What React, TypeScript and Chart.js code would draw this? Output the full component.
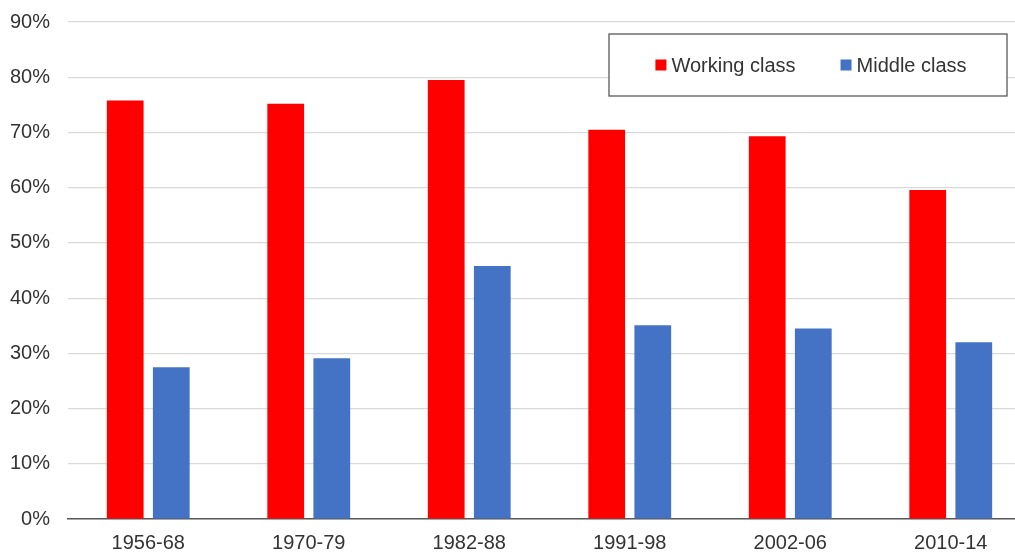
import React, { useEffect, useRef } from "react";
import { Chart, registerables } from "chart.js";

Chart.register(...registerables);

const categories = ["1956-68", "1970-79", "1982-88", "1991-98", "2002-06", "2010-14"];
const workingClass = [75.8, 75.2, 79.5, 70.5, 69.3, 59.6];
const middleClass = [27.5, 29.1, 45.8, 35.1, 34.5, 32.0];
const seriesNames = ["Working class", "Middle class"];
const seriesColors = ["#FF0000", "#4472C4"];
const yMin = 0;
const yMax = 90;
const yStep = 10;

const FONT = '"Liberation Sans", Arial, sans-serif';
const TEXT = "#333333";

const boxLegend = {
  id: "boxLegend",
  afterDraw(chart: any) {
    const ctx = chart.ctx;
    const area = chart.chartArea;
    const bx = area.left + 541;
    const by = area.top + 12;
    const bw = 398;
    const bh = 62;
    ctx.save();
    ctx.fillStyle = "#ffffff";
    ctx.fillRect(bx, by, bw, bh);
    ctx.strokeStyle = "#595959";
    ctx.lineWidth = 1.3;
    ctx.strokeRect(bx, by, bw, bh);
    ctx.font = `20px ${FONT}`;
    ctx.textBaseline = "middle";
    ctx.textAlign = "left";
    const sq = 11;
    const gapSq = 5;
    const gapItems = 45;
    const items = chart.data.datasets.map((d: any) => ({
      label: d.label,
      color: d.backgroundColor,
      w: ctx.measureText(d.label).width,
    }));
    let total = 0;
    items.forEach((it: any, i: number) => {
      total += sq + gapSq + it.w + (i > 0 ? gapItems : 0);
    });
    let x = bx + (bw - total) / 2 + 3;
    const cy = by + bh / 2;
    items.forEach((it: any) => {
      ctx.fillStyle = it.color;
      ctx.fillRect(x, cy - sq / 2, sq, sq);
      x += sq + gapSq;
      ctx.fillStyle = TEXT;
      ctx.fillText(it.label, x, cy + 1);
      x += it.w + gapItems;
    });
    ctx.restore();
  },
};

export default function App() {
  const ref = useRef<HTMLCanvasElement | null>(null);

  useEffect(() => {
    if (!ref.current) return;
    const chart = new Chart(ref.current, {
      type: "bar",
      data: {
        labels: categories,
        datasets: [
          {
            label: seriesNames[0],
            data: workingClass,
            backgroundColor: seriesColors[0],
            categoryPercentage: 0.574,
            barPercentage: 0.798,
          },
          {
            label: seriesNames[1],
            data: middleClass,
            backgroundColor: seriesColors[1],
            categoryPercentage: 0.574,
            barPercentage: 0.798,
          },
        ],
      },
      options: {
        animation: false,
        responsive: true,
        maintainAspectRatio: false,
        layout: { padding: { top: 22, right: 1, left: 0, bottom: 0 } },
        plugins: {
          legend: { display: false },
          tooltip: { enabled: false },
        },
        scales: {
          x: {
            grid: { display: false, drawTicks: false },
            border: { display: true, color: "#595959", width: 1.5 },
            ticks: {
              color: TEXT,
              font: { family: FONT, size: 20 },
              padding: 12,
              maxRotation: 0,
            },
            afterFit: (s: any) => {
              s.height = 33;
            },
          },
          y: {
            min: yMin,
            max: yMax,
            grid: {
              color: "#d9d9d9",
              lineWidth: 1.2,
              drawTicks: true,
              tickLength: 18,
              tickColor: "rgba(0,0,0,0)",
            },
            border: { display: false },
            ticks: {
              stepSize: yStep,
              color: TEXT,
              font: { family: FONT, size: 20 },
              padding: 0,
              callback: (v: any) => `${v}%`,
            },
            afterFit: (s: any) => {
              s.width = 68;
            },
          },
        },
      },
      plugins: [boxLegend],
    });
    return () => chart.destroy();
  }, []);

  return (
    <div
      style={{
        position: "fixed",
        left: 0,
        top: 0,
        width: 1015,
        height: 552,
        overflow: "hidden",
        background: "#ffffff",
      }}
    >
      <div style={{ position: "relative", width: 1032, height: 552 }}>
        <canvas ref={ref} />
      </div>
    </div>
  );
}
